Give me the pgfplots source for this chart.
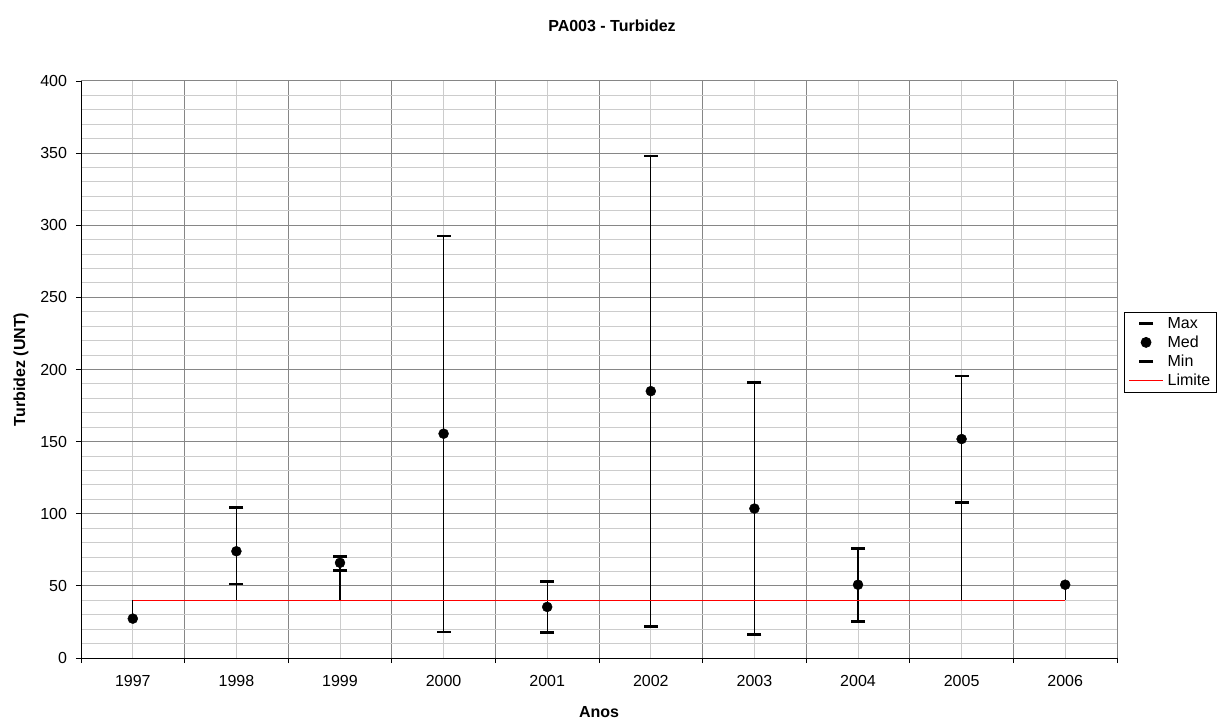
\documentclass[border=0pt]{standalone}
\usepackage{fontspec}
\setmainfont{Liberation Sans}
\usepackage{pgfplots}
\usepackage{pgfplotstable}
\pgfplotsset{compat=1.18}

\pgfplotstableread{
x  max    med    min
0  nan    27.3   nan
1  104.5  74.0   51.3
2  70.5   66.0   60.8
3  292.5  155.5  18.0
4  53.0   35.4   17.8
5  348.0  185.0  21.7
6  191.0  103.6  16.2
7  76.0   50.8   25.2
8  195.5  151.8  108.0
9  nan    50.8   nan
}\datatable

% high-low lines: top value and length down to lowest
\pgfplotstableread{
x  hi     d
0  40.0   12.7
1  104.5  64.5
2  70.5   30.5
3  292.5  274.5
4  53.0   35.2
5  348.0  326.3
6  191.0  174.8
7  76.0   50.8
8  195.5  155.5
9  50.8   10.8
}\hilotable

\pgfplotstableread{
x  lim
0  40
1  40
2  40
3  40
4  40
5  40
6  40
7  40
8  40
9  40
}\limtable

\definecolor{majgrid}{RGB}{134,134,134}
\definecolor{mingrid}{RGB}{204,204,204}

\pgfplotsset{
  markimg/.style={legend image code/.code={\draw[##1,mark repeat=2,mark phase=2] plot coordinates {(0bp,0bp) (17bp,0bp) (34bp,0bp)};}},
  lineimg/.style={legend image code/.code={\draw[##1] (0bp,0bp) -- (34bp,0bp);}},
}

\begin{document}
\begin{tikzpicture}
\path[use as bounding box] (0,0) rectangle (1224bp,720bp);
\node[font=\bfseries\fontsize{16bp}{19bp}\selectfont] at (612bp,694bp) {PA003 - Turbidez};
\begin{axis}[
  at={(81bp,62bp)}, anchor=south west,
  scale only axis, width=1036bp, height=577bp,
  xmin=-0.5, xmax=9.5, ymin=0, ymax=400,
  axis lines*=left,
  axis line style={black, line width=0.9bp},
  xtick={0,...,9},
  xticklabels={1997,1998,1999,2000,2001,2002,2003,2004,2005,2006},
  minor xtick={-0.5,0.5,...,9.5},
  ytick={0,50,...,400},
  minor ytick={10,20,30,40,60,70,80,90,110,120,130,140,160,170,180,190,210,220,230,240,260,270,280,290,310,320,330,340,360,370,380,390},
  tick align=outside,
  major tick length=5bp, minor tick length=5bp,
  major x tick style={draw=none},
  minor y tick style={draw=none},
  tick style={black, line width=0.9bp},
  grid=both,
  major x grid style={mingrid, line width=1bp},
  minor x grid style={majgrid, line width=1bp},
  major y grid style={majgrid, line width=1bp},
  minor y grid style={mingrid, line width=1bp},
  ticklabel style={font=\fontsize{16bp}{19bp}\selectfont},
  xticklabel style={yshift=-9bp},
  yticklabel style={xshift=-5.5bp},
  /pgf/number format/assume math mode=true,
  xlabel={Anos},
  ylabel={Turbidez (UNT)},
  label style={font=\bfseries\fontsize{16bp}{19bp}\selectfont},
  xlabel style={at={(axis description cs:0.5,-0.0936)}, anchor=center},
  ylabel style={at={(axis description cs:-0.0579,0.5)}, anchor=center},
  legend style={at={(axis description cs:1.0068,0.5997)}, anchor=north west,
    draw=black, line width=0.8bp, font=\fontsize{16bp}{19bp}\selectfont,
    inner xsep=4bp, inner ysep=3bp, row sep=2bp, column sep=2bp},
  legend cell align=left,
  clip=false,
]
\addplot[draw=none, forget plot,
  error bars/.cd, y dir=minus, y explicit, error mark=none,
  error bar style={black, line width=1.2bp}]
  table[x=x, y=hi, y error=d] {\hilotable};

\addplot[only marks, mark=-, mark size=7bp, mark options={black, line width=2.6bp}, markimg]
  table[x=x, y=max] {\datatable};
\addlegendentry{Max}

\addplot[only marks, mark=*, mark size=5bp, mark options={black, fill=black}, markimg]
  table[x=x, y=med] {\datatable};
\addlegendentry{Med}

\addplot[only marks, mark=-, mark size=7bp, mark options={black, line width=2.6bp}, markimg]
  table[x=x, y=min] {\datatable};
\addlegendentry{Min}

\addplot[red, line width=1.2bp, no marks, lineimg]
  table[x=x, y=lim] {\limtable};
\addlegendentry{Limite}
\end{axis}
\end{tikzpicture}
\end{document}
